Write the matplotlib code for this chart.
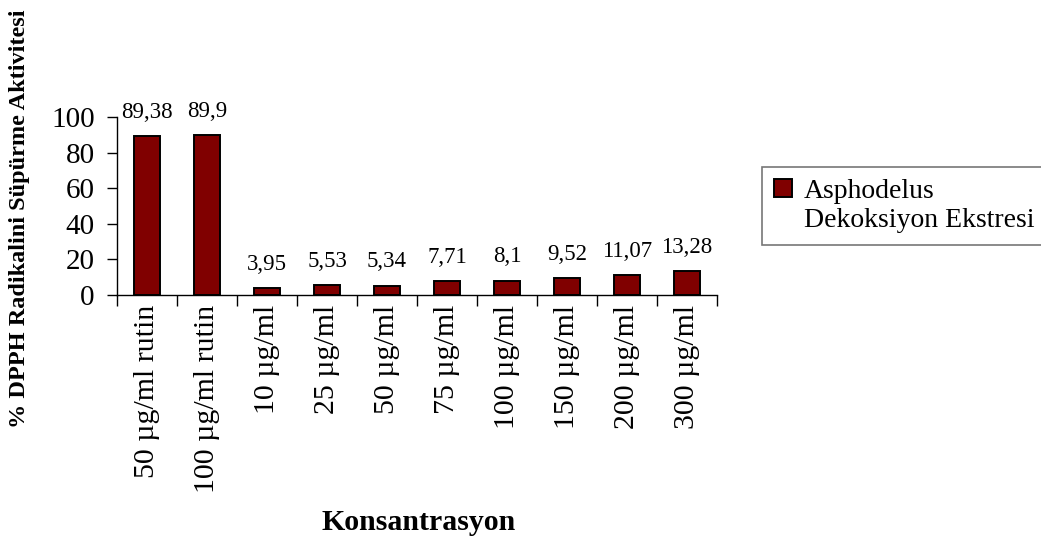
import matplotlib.pyplot as plt
from matplotlib.patches import Rectangle

plt.rcParams['font.family'] = ['Liberation Serif', 'DejaVu Serif']

categories = ['50 µg/ml rutin', '100 µg/ml rutin', '10 µg/ml', '25 µg/ml', '50 µg/ml',
              '75 µg/ml', '100 µg/ml', '150 µg/ml', '200 µg/ml', '300 µg/ml']
values = [89.38, 89.9, 3.95, 5.53, 5.34, 7.71, 8.1, 9.52, 11.07, 13.28]
value_labels = ['89,38', '89,9', '3,95', '5,53', '5,34', '7,71', '8,1', '9,52', '11,07', '13,28']
series_name = ['Asphodelus', 'Dekoksiyon Ekstresi']
y_ticks = [0, 20, 40, 60, 80, 100]

fig = plt.figure(figsize=(10.41, 5.41), dpi=100)
ax = fig.add_axes([0.1124, 0.4547, 0.5764, 0.329])

x = list(range(len(categories)))
bars = ax.bar(x, values, width=0.42, color='#800000', edgecolor='black', linewidth=1.4)

for xi, v, lab in zip(x, values, value_labels):
    ax.annotate(lab, (xi, v), xytext=(0, 17), textcoords='offset points',
                ha='center', va='center', fontsize=16.5, annotation_clip=False)

ax.set_xlim(-0.5, len(categories) - 0.5)
ax.set_ylim(0, 100)
ax.set_yticks(y_ticks)
ax.tick_params(axis='y', labelsize=21, length=7, width=1, pad=9)

# tick marks sit between categories, labels at the bar centres
ax.set_xticks([i - 0.5 for i in range(len(categories) + 1)])
ax.set_xticklabels([])
ax.set_xticks(x, minor=True)
ax.set_xticklabels(categories, minor=True, rotation=90, fontsize=21.5)
ax.tick_params(axis='x', which='major', length=8, width=1)
ax.tick_params(axis='x', which='minor', length=0, pad=7)

for side in ['top', 'right']:
    ax.spines[side].set_visible(False)
for side in ['left', 'bottom']:
    ax.spines[side].set_linewidth(1)

fig.text(0.0192, 0.595, '% DPPH Radikalini Süpürme Aktivitesi', rotation=90,
         ha='center', va='center', fontsize=17.5, fontweight='bold')
fig.text(0.4025, 0.035, 'Konsantrasyon', ha='center', va='center',
         fontsize=21.5, fontweight='bold')

blank = Rectangle((0, 0), 1, 1, fill=False, edgecolor='none')
leg = fig.legend([bars, blank], series_name, loc='upper left',
                 bbox_to_anchor=(0.732, 0.6913), fontsize=20, frameon=True,
                 fancybox=False, edgecolor='#555555', handlelength=0.65,
                 handleheight=0.62, handletextpad=0.45, borderpad=0.42,
                 labelspacing=0.15, borderaxespad=0)
leg.get_frame().set_linewidth(1.2)

fig.savefig('out.png', dpi=100)
